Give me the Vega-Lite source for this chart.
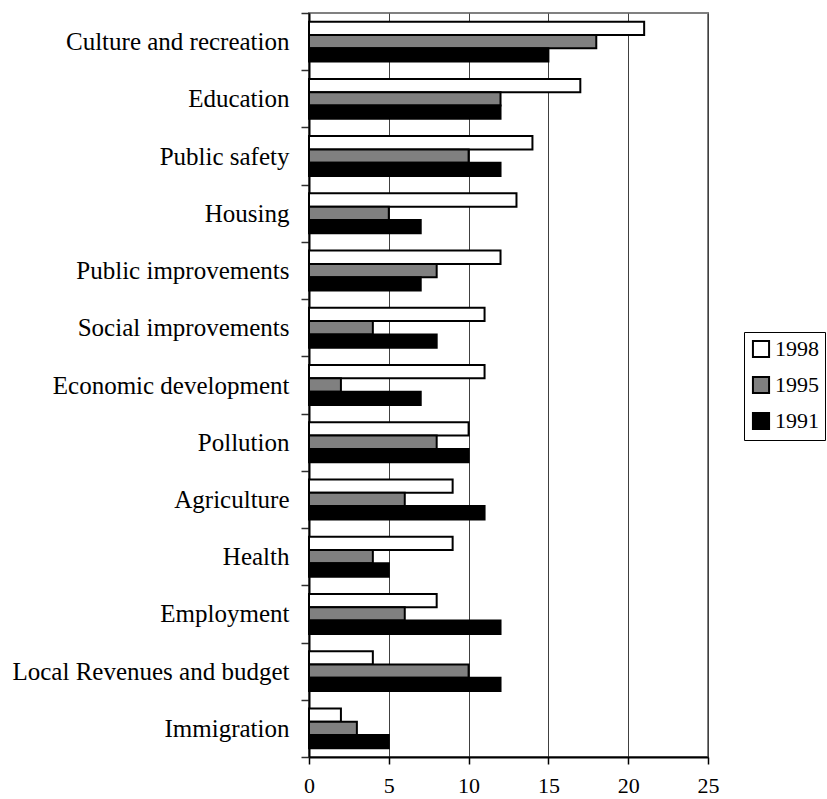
{
  "$schema": "https://vega.github.io/schema/vega-lite/v6.json",
  "autosize": "none",
  "padding": {"left": 309, "top": 13, "right": 119, "bottom": 42},
  "width": 399,
  "height": 744,
  "background": "white",
  "config": {
    "font": "Liberation Serif",
    "view": {"stroke": "#808080", "strokeWidth": 2}
  },
  "data": {
    "values": [
      {"category": "Culture and recreation", "year": "1998", "value": 21},
      {"category": "Culture and recreation", "year": "1995", "value": 18},
      {"category": "Culture and recreation", "year": "1991", "value": 15},
      {"category": "Education", "year": "1998", "value": 17},
      {"category": "Education", "year": "1995", "value": 12},
      {"category": "Education", "year": "1991", "value": 12},
      {"category": "Public safety", "year": "1998", "value": 14},
      {"category": "Public safety", "year": "1995", "value": 10},
      {"category": "Public safety", "year": "1991", "value": 12},
      {"category": "Housing", "year": "1998", "value": 13},
      {"category": "Housing", "year": "1995", "value": 5},
      {"category": "Housing", "year": "1991", "value": 7},
      {"category": "Public improvements", "year": "1998", "value": 12},
      {"category": "Public improvements", "year": "1995", "value": 8},
      {"category": "Public improvements", "year": "1991", "value": 7},
      {"category": "Social improvements", "year": "1998", "value": 11},
      {"category": "Social improvements", "year": "1995", "value": 4},
      {"category": "Social improvements", "year": "1991", "value": 8},
      {"category": "Economic development", "year": "1998", "value": 11},
      {"category": "Economic development", "year": "1995", "value": 2},
      {"category": "Economic development", "year": "1991", "value": 7},
      {"category": "Pollution", "year": "1998", "value": 10},
      {"category": "Pollution", "year": "1995", "value": 8},
      {"category": "Pollution", "year": "1991", "value": 10},
      {"category": "Agriculture", "year": "1998", "value": 9},
      {"category": "Agriculture", "year": "1995", "value": 6},
      {"category": "Agriculture", "year": "1991", "value": 11},
      {"category": "Health", "year": "1998", "value": 9},
      {"category": "Health", "year": "1995", "value": 4},
      {"category": "Health", "year": "1991", "value": 5},
      {"category": "Employment", "year": "1998", "value": 8},
      {"category": "Employment", "year": "1995", "value": 6},
      {"category": "Employment", "year": "1991", "value": 12},
      {"category": "Local Revenues and budget", "year": "1998", "value": 4},
      {"category": "Local Revenues and budget", "year": "1995", "value": 10},
      {"category": "Local Revenues and budget", "year": "1991", "value": 12},
      {"category": "Immigration", "year": "1998", "value": 2},
      {"category": "Immigration", "year": "1995", "value": 3},
      {"category": "Immigration", "year": "1991", "value": 5}
    ]
  },
  "mark": {"type": "bar", "stroke": "black", "strokeWidth": 2},
  "encoding": {
    "y": {
      "field": "category",
      "type": "nominal",
      "sort": null,
      "scale": {"paddingInner": 0, "paddingOuter": 0},
      "axis": {
        "title": null,
        "tickBand": "extent",
        "domainColor": "black",
        "domainWidth": 2,
        "tickColor": "#303030",
        "tickWidth": 1.5,
        "tickSize": 8,
        "labelFontSize": 25,
        "labelColor": "black",
        "labelPadding": 12,
        "labelLimit": 400,
        "labelFont": "Liberation Serif",
        "grid": false
      }
    },
    "yOffset": {
      "field": "year",
      "type": "nominal",
      "sort": ["1998", "1995", "1991"],
      "scale": {"paddingInner": 0, "paddingOuter": 0.65}
    },
    "x": {
      "field": "value",
      "type": "quantitative",
      "scale": {"domain": [0, 25], "nice": false},
      "axis": {
        "title": null,
        "values": [0, 5, 10, 15, 20, 25],
        "grid": true,
        "gridColor": "#404040",
        "gridWidth": 1,
        "gridOpacity": 1,
        "domainColor": "black",
        "domainWidth": 2,
        "tickColor": "black",
        "tickSize": 7,
        "tickWidth": 1.5,
        "labelFontSize": 22,
        "labelColor": "black",
        "labelPadding": 11,
        "labelFlush": false,
        "labelFont": "Liberation Serif"
      }
    },
    "fill": {
      "field": "year",
      "type": "nominal",
      "sort": ["1998", "1995", "1991"],
      "scale": {"domain": ["1998", "1995", "1991"], "range": ["white", "#808080", "black"]},
      "legend": {
        "title": null,
        "orient": "none",
        "legendX": 435,
        "legendY": 319,
        "padding": 6,
        "strokeColor": "black",
        "fillColor": "white",
        "symbolType": "square",
        "symbolSize": 260,
        "symbolStrokeColor": "black",
        "symbolStrokeWidth": 2,
        "labelFontSize": 22,
        "labelColor": "black",
        "labelFont": "Liberation Serif",
        "labelOffset": 3,
        "rowPadding": 10,
        "cornerRadius": 0
      }
    }
  }
}
